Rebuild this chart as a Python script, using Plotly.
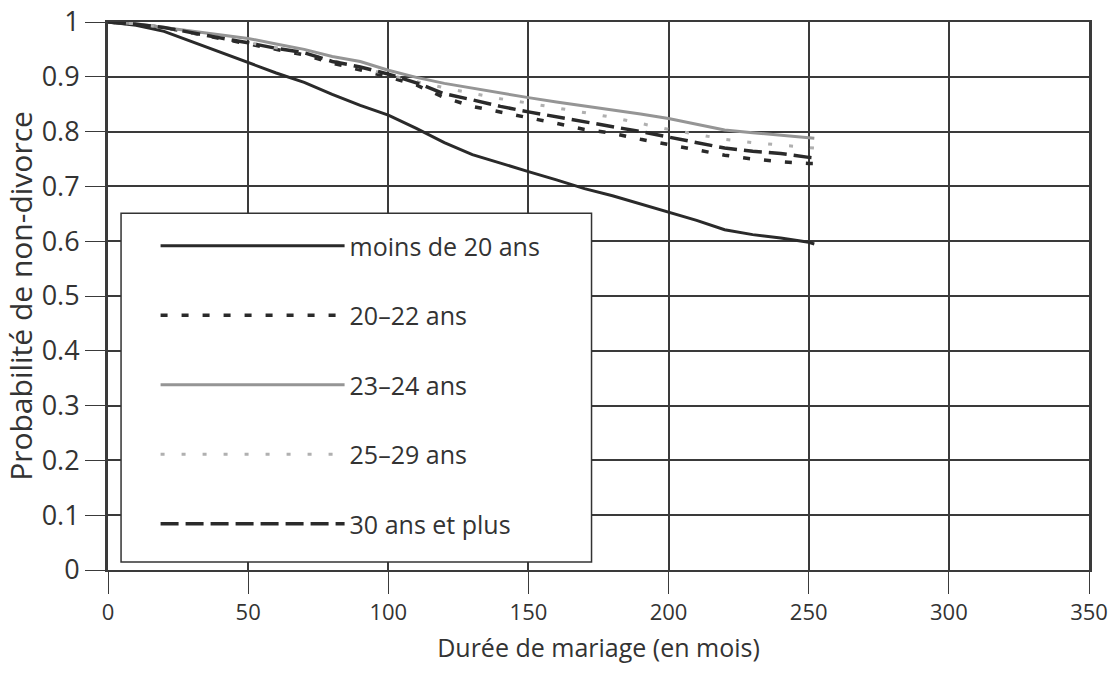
import plotly.graph_objects as go

months = [0, 10, 20, 30, 40, 50, 60, 70, 80, 90, 100, 110, 120, 130, 140, 150,
          160, 170, 180, 190, 200, 210, 220, 230, 240, 250, 252]

moins_20 = [1.0, 0.994, 0.983, 0.964, 0.945, 0.925, 0.907, 0.89, 0.868, 0.848, 0.830,
            0.806, 0.780, 0.758, 0.742, 0.727, 0.712, 0.696, 0.683, 0.668, 0.653,
            0.638, 0.621, 0.612, 0.606, 0.598, 0.595]
ans_20_22 = [1.0, 0.996, 0.99, 0.98, 0.97, 0.96, 0.95, 0.94, 0.925, 0.912, 0.9,
             0.885, 0.862, 0.846, 0.836, 0.826, 0.815, 0.804, 0.797, 0.786, 0.776,
             0.766, 0.757, 0.75, 0.745, 0.742, 0.742]
ans_23_24 = [1.0, 0.997, 0.99, 0.983, 0.977, 0.97, 0.96, 0.95, 0.937, 0.928, 0.912,
             0.899, 0.888, 0.879, 0.870, 0.862, 0.854, 0.847, 0.840, 0.832, 0.824,
             0.814, 0.803, 0.798, 0.794, 0.790, 0.788]
ans_25_29 = [1.0, 0.997, 0.99, 0.98, 0.972, 0.963, 0.953, 0.943, 0.93, 0.918, 0.905,
             0.891, 0.88, 0.870, 0.860, 0.852, 0.843, 0.835, 0.826, 0.815, 0.804,
             0.795, 0.786, 0.780, 0.776, 0.772, 0.770]
ans_30_plus = [1.0, 0.996, 0.99, 0.98, 0.971, 0.962, 0.952, 0.944, 0.928, 0.918, 0.905,
               0.889, 0.869, 0.858, 0.846, 0.836, 0.827, 0.818, 0.81, 0.8, 0.79,
               0.78, 0.77, 0.764, 0.76, 0.753, 0.752]

series_names = ["moins de 20 ans", "20–22 ans", "23–24 ans", "25–29 ans", "30 ans et plus"]
series_values = [moins_20, ans_20_22, ans_23_24, ans_25_29, ans_30_plus]
styles = [
    dict(color="#2a2a2a", width=3, dash="solid"),
    dict(color="#2a2a2a", width=3.5, dash="7px,14px"),
    dict(color="#959595", width=3, dash="solid"),
    dict(color="#b0b0b0", width=3, dash="4px,17px"),
    dict(color="#2a2a2a", width=3.5, dash="18px,7px"),
]

x_ticks = [0, 50, 100, 150, 200, 250, 300, 350]
y_ticks = [0, 0.1, 0.2, 0.3, 0.4, 0.5, 0.6, 0.7, 0.8, 0.9, 1]
y_tick_labels = ["0", "0.1", "0.2", "0.3", "0.4", "0.5", "0.6", "0.7", "0.8", "0.9", "1"]

fig = go.Figure()
for i, (name, vals, st) in enumerate(zip(series_names, series_values, styles)):
    fig.add_trace(go.Scatter(x=months, y=vals, mode="lines", name=name,
                             legendgroup=f"g{i}", line=st))

txt = "#333333"
grid = "#3a3a3a"
fig.update_layout(
    width=1117, height=674,
    margin=dict(l=108, r=28, t=22, b=104, autoexpand=False),
    paper_bgcolor="white", plot_bgcolor="white",
    font=dict(family="Open Sans, DejaVu Sans, sans-serif", color=txt, size=22),
    showlegend=True,
    legend=dict(x=0.0485, y=0.633, xanchor="left", yanchor="top",
                bgcolor="rgba(0,0,0,0)", borderwidth=0,
                itemwidth=184, tracegroupgap=34,
                font=dict(size=25, color=txt, family="Open Sans, sans-serif")),
    xaxis=dict(range=[0, 350], tickvals=x_ticks, showgrid=True, gridcolor=grid,
               gridwidth=1.5, ticks="outside", ticklen=22, tickwidth=1.2, tickcolor=grid,
               showline=True, linecolor=grid, linewidth=1.5, mirror=True,
               zeroline=False, automargin=False, ticklabeloverflow="allow",
               tickfont=dict(size=22),
               title=dict(text="Durée de mariage (en mois)", standoff=14,
                          font=dict(size=25))),
    yaxis=dict(range=[0, 1], tickvals=y_ticks, ticktext=y_tick_labels, showgrid=True,
               gridcolor=grid, gridwidth=1.5, ticks="outside", ticklen=20,
               tickwidth=1.2, tickcolor=grid,
               showline=True, linecolor=grid, linewidth=3, mirror=True,
               zeroline=False, automargin=False, ticklabeloverflow="allow",
               tickfont=dict(size=27),
               title=dict(text="Probabilité de non-divorce", standoff=18,
                          font=dict(size=30))),
    shapes=[dict(type="rect", xref="paper", yref="paper",
                 x0=0.0133, x1=0.4929, y0=0.0146, y1=0.651,
                 line=dict(color="#333333", width=1.5), fillcolor="white", layer="above")],
)

fig.write_html("out.html", config={"displayModeBar": False},
               post_script="document.body.style.margin='0';")
